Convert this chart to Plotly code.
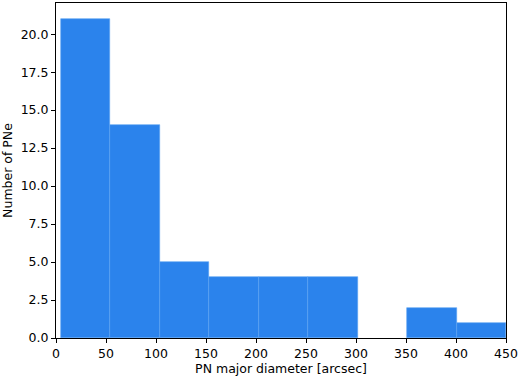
import plotly.graph_objects as go

bin_edges = [5.0, 54.44, 103.89, 153.33, 202.78, 252.22, 301.67, 351.11, 400.56, 450.0]
counts = [21, 14, 5, 4, 4, 4, 0, 2, 1]
x_ticks = [0, 50, 100, 150, 200, 250, 300, 350, 400, 450]
y_ticks = [0, 2.5, 5, 7.5, 10, 12.5, 15, 17.5, 20]

centers = [(a + b) / 2 for a, b in zip(bin_edges[:-1], bin_edges[1:])]
widths = [b - a for a, b in zip(bin_edges[:-1], bin_edges[1:])]
line_widths = [0.6 if c > 0 else 0 for c in counts]

fig = go.Figure(go.Bar(
    x=centers, y=counts, width=widths,
    marker=dict(color="#2b83ec", line=dict(color="#5aa2f2", width=line_widths)),
))

font = dict(family="DejaVu Sans", size=12.5, color="black")
axis_common = dict(
    showline=True, linecolor="black", linewidth=1, mirror=True,
    ticks="outside", ticklen=4, tickcolor="black", showgrid=False, zeroline=False,
    tickfont=font,
)
fig.update_layout(
    width=520, height=379,
    margin=dict(l=56, r=14, t=3, b=41),
    plot_bgcolor="white", paper_bgcolor="white",
    showlegend=False, bargap=0,
    xaxis=dict(range=[0, 450], tickvals=x_ticks, title=dict(text="PN major diameter [arcsec]", font=font, standoff=0), **axis_common),
    yaxis=dict(range=[0, 22.05], tickvals=y_ticks, tickformat=".1f", title=dict(text="Number of PNe", font=font, standoff=6), **axis_common),
)
fig.write_html("out.html", config={"displayModeBar": False},
               post_script="document.body.style.margin='0';document.body.style.overflow='hidden';")
